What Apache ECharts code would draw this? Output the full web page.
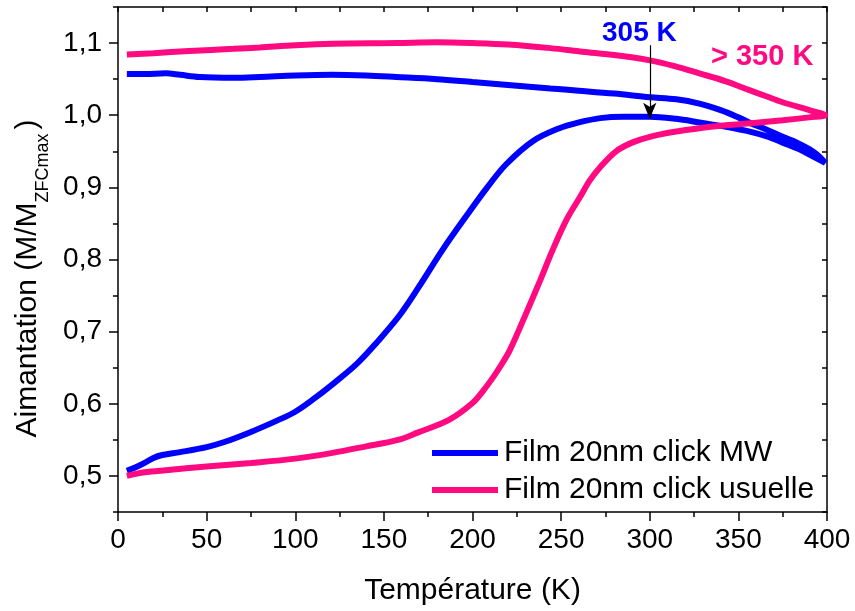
<!DOCTYPE html>
<html>
<head>
<meta charset="utf-8">
<script src="https://cdn.jsdelivr.net/npm/echarts@6/dist/echarts.min.js"></script>
<style>html,body{margin:0;padding:0;background:#fff}#c{width:855px;height:611px}</style>
</head>
<body>
<div id="c"></div>
<script>
// Film 20nm click MW : ZFC (warming) then FC (cooling back)
const mwT = [5,10,15,20,25,35,50,60,75,90,100,110,121,135,146,159,170,183,197,208,219,234,249,260,272,285,300,315,328,343,357,367,375,385,392,399,
             395,390,383,375,366,357,350,340,328,315,300,280,260,244,220,200,180,157,140,121,100,80,65,46,35,27,15,5];
const mwM = [0.507,0.512,0.518,0.525,0.529,0.533,0.540,0.547,0.561,0.577,0.589,0.606,0.627,0.656,0.685,0.723,0.763,0.813,0.862,0.899,0.932,0.964,0.982,0.990,0.996,0.998,0.998,0.995,0.990,0.984,0.977,0.970,0.962,0.952,0.943,0.934,
             0.944,0.953,0.962,0.970,0.980,0.989,0.997,1.007,1.016,1.022,1.025,1.030,1.034,1.037,1.042,1.046,1.050,1.053,1.055,1.056,1.055,1.053,1.052,1.053,1.056,1.058,1.057,1.057];
// Film 20nm click usuelle
const usT = [5,15,27,50,75,100,121,140,158,169,187,200,206,212,216,221,230,238,245,253,261,266,272,281,290,300,314,328,343,357,375,390,399,
             390,375,365,357,343,328,314,300,281,262,244,220,200,180,157,121,100,80,65,40,20,5];
const usM = [0.500,0.505,0.508,0.513,0.518,0.524,0.532,0.541,0.550,0.560,0.578,0.601,0.618,0.638,0.653,0.674,0.724,0.770,0.812,0.855,0.888,0.909,0.928,0.950,0.962,0.970,0.977,0.982,0.986,0.989,0.993,0.997,1.000,
             1.007,1.018,1.027,1.034,1.047,1.058,1.068,1.076,1.083,1.088,1.093,1.098,1.100,1.101,1.100,1.099,1.097,1.094,1.092,1.089,1.086,1.084];
const seriesNames = ['Film 20nm click MW', 'Film 20nm click usuelle'];
const xTicks = [0,50,100,150,200,250,300,350,400];
const yTicks = [0.5,0.6,0.7,0.8,0.9,1.0,1.1];
const arrowT = 300, arrowFrom = 1.097, arrowTo = 0.995;
const annot1 = '305 K', annot2 = '> 350 K';

const FONT = '"Liberation Sans", Arial, sans-serif';
const BLUE = '#0000ff', PINK = '#ff0a80';
const pairs = (xs, ys) => xs.map((x, i) => [x, ys[i]]);
const chart = echarts.init(document.getElementById('c'), null, {renderer: 'canvas'});
const lineC = {color: '#000', width: 1.5};
chart.setOption({
  animation: false,
  backgroundColor: '#fff',
  grid: {left: 118, right: 28, top: 7, bottom: 98, containLabel: false},
  legend: {
    orient: 'vertical', left: 427, top: 433, icon: 'rect', itemWidth: 66, itemHeight: 6,
    itemGap: 7, data: seriesNames,
    textStyle: {fontFamily: FONT, fontSize: 30, color: '#000', lineHeight: 30, padding: [0,0,0,1]}
  },
  xAxis: [{
    type: 'value', min: xTicks[0], max: xTicks[xTicks.length-1], interval: 50, position: 'bottom',
    axisLine: {show: true, onZero: false, lineStyle: lineC},
    axisTick: {show: true, inside: false, length: 9, lineStyle: lineC},
    minorTick: {show: true, splitNumber: 2, length: 5, lineStyle: lineC},
    splitLine: {show: false},
    axisLabel: {fontFamily: FONT, fontSize: 28, color: '#000', margin: 14},
    name: 'Température (K)', nameLocation: 'middle', nameGap: 64,
    nameTextStyle: {fontFamily: FONT, fontSize: 30, color: '#000'}
  }, {
    type: 'value', min: 0, max: 400, interval: 25, position: 'top',
    axisLine: {show: true, onZero: false, lineStyle: lineC},
    axisTick: {show: true, inside: true, length: 5, lineStyle: lineC},
    axisLabel: {show: false}, splitLine: {show: false}
  }],
  yAxis: [{
    type: 'value', min: 0.45, max: 1.15, position: 'left',
    axisLine: {show: true, onZero: false, lineStyle: lineC},
    axisTick: {show: true, inside: false, length: 9, lineStyle: lineC, customValues: yTicks},
    splitLine: {show: false},
    axisLabel: {fontFamily: FONT, fontSize: 28, color: '#000', margin: 16, customValues: yTicks,
      formatter: v => v.toFixed(1).replace('.', ',')},
    name: '{m|Aimantation (M/M}{s|ZFCmax}{p|)}', nameLocation: 'middle', nameGap: 64,
    nameTextStyle: {fontFamily: FONT, color: '#000', padding: [0, 38, 0, 0],
      rich: {
        m: {fontFamily: FONT, fontSize: 30, lineHeight: 30, verticalAlign: 'top', color: '#000'},
        s: {fontFamily: FONT, fontSize: 18, lineHeight: 18, padding: [21,0,0,0], verticalAlign: 'top', color: '#000'},
        p: {fontFamily: FONT, fontSize: 30, lineHeight: 30, verticalAlign: 'top', padding: [0,0,0,4], color: '#000'}
      }}
  }, {
    type: 'value', min: 0.45, max: 1.15, interval: 0.05, position: 'right',
    axisLine: {show: true, onZero: false, lineStyle: lineC},
    axisTick: {show: true, inside: true, length: 5, lineStyle: lineC},
    axisLabel: {show: false}, splitLine: {show: false}
  }, {
    type: 'value', min: 0.45, max: 1.15, interval: 0.05, position: 'left',
    axisLine: {show: false},
    axisTick: {show: true, inside: false, length: 5, lineStyle: lineC},
    axisLabel: {show: false}, splitLine: {show: false}
  }],
  series: [{
    name: seriesNames[0], type: 'line', data: pairs(mwT, mwM), showSymbol: false, smooth: 0.35,
    color: BLUE, lineStyle: {color: BLUE, width: 6}, z: 2,
    markLine: {
      silent: true, symbol: ['none', 'arrow'], symbolSize: [10, 16],
      lineStyle: {color: '#000', width: 1.2, type: 'solid'}, label: {show: false},
      data: [[{coord: [arrowT, arrowFrom]}, {coord: [arrowT, arrowTo]}]]
    }
  }, {
    name: seriesNames[1], type: 'line', data: pairs(usT, usM), showSymbol: false, smooth: 0.35,
    color: PINK, lineStyle: {color: PINK, width: 6}, z: 3
  }],
  graphic: [
    {type: 'text', left: 602, top: 19, style: {text: annot1, font: 'bold 28px ' + FONT, fill: BLUE}},
    {type: 'text', left: 711, top: 42, style: {text: annot2, font: 'bold 29px ' + FONT, fill: PINK}}
  ]
});
</script>
</body>
</html>
